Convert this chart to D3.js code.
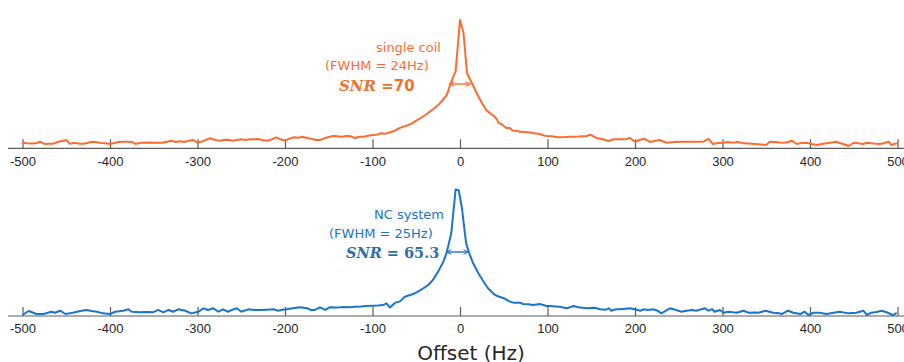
<!DOCTYPE html>
<html>
<head>
<meta charset="utf-8">
<script src="https://cdn.jsdelivr.net/npm/d3@7"></script>
<style>
  html, body { margin: 0; padding: 0; background: #fff; }
  svg { display: block; }
</style>
</head>
<body>
<svg id="chart" width="904" height="362"></svg>
<script>
// ---------------- data ----------------
const tickValues = [-500, -400, -300, -200, -100, 0, 100, 200, 300, 400, 500];
const tickLabels = ["-500", "-400", "-300", "-200", "-100", "0", "100", "200", "300", "400", "500"];
const xLabel = "Offset (Hz)";

// single coil spectrum (frequency offset in Hz, normalised amplitude)
const singleFreq = [
  -500,-495,-490,-485,-480,-475,-470,-465,-460,-455,-450,-446,-440,-435,-430,-425,-420,-415,-410,-405,
  -400,-395,-390,-385,-380,-375,-371,-365,-360,-355,-350,-345,-340,-335,-330,-325,-320,-315,-310,-305,
  -300,-295,-290,-285,-280,-275,-270,-265,-260,-255,-250,-245,-240,-235,-230,-225,-220,-215,-210,-205,
  -200,-195,-190,-185,-180,-175,-170,-165,-160,-155,-150,-145,-140,-135,-130,-125,-120,-115,-110,-105,
  -100,-95,-90,-85,-80,-75,-70,-65,-60,-55,-50,-45,-40,-35,-30,-25,-20,-15,-11,-5,
  0,4,8,14,19,25,30,34,38,42,44,48,53,57,60,65,69,75,80,85,
  91,96,100,105,110,114,120,125,130,135,140,145,149,153,157,162,166,170,175,180,
  185,190,194,200,205,210,215,217,222,228,236,245,255,265,272,278,284,289,295,301,
  306,312,318,324,330,337,344,350,354,360,365,370,375,379,385,390,396,402,408,413,
  419,425,430,434,438,444,450,455,461,465,470,475,480,485,490,493,496,500
];
const singleVal = [
  2.6,2.1,2.0,2.1,3.4,1.6,1.8,1.8,3.2,4.0,4.8,1.8,2.6,1.8,1.8,2.6,3.4,2.9,2.4,2.1,
  1.6,2.4,3.2,3.4,3.4,3.2,1.6,2.6,2.6,2.8,2.6,2.6,2.6,3.4,4.2,3.2,3.7,3.2,4.2,4.8,
  2.6,3.7,5.0,6.1,4.8,4.2,4.8,5.0,4.2,4.8,5.3,4.8,5.3,5.3,5.6,4.5,4.2,5.3,6.9,5.3,
  4.2,5.8,6.9,6.6,7.4,6.3,5.8,4.8,4.8,6.1,7.1,7.9,7.7,7.4,7.9,7.7,6.3,7.4,7.4,8.2,
  8.7,9.0,10.1,9.8,10.9,11.9,14.0,15.3,16.4,18.0,20.2,22.2,24.4,27.0,29.6,32.5,36.3,40.5,49.2,59.5,
  100,89.7,57.9,49.2,42.1,34.1,28.6,26.2,24.2,21.4,18.3,17.1,14.3,14.3,12.3,11.9,11.3,11.1,10.7,10.1,
  9.5,8.3,7.9,7.7,7.1,6.9,7.1,7.4,7.4,7.5,7.7,7.9,9.0,7.5,6.1,5.6,4.8,4.0,5.3,5.3,
  5.3,5.3,6.6,3.4,4.8,5.8,4.0,3.2,4.0,4.8,2.6,3.2,3.4,3.4,3.4,3.4,5.6,1.6,2.4,2.6,
  3.2,2.6,3.2,2.1,2.0,1.6,1.2,0.8,3.4,3.2,2.8,2.6,3.2,4.2,1.6,2.4,2.6,1.6,0.8,1.6,
  2.1,2.8,3.4,2.4,1.6,0.0,2.6,2.1,1.6,2.6,2.1,1.8,1.6,2.4,3.4,0.6,1.6,2.1
];

// NC system spectrum
const ncFreq = [
  -500,-493,-484,-476,-467,-463,-457,-451,-446,-440,-434,-427,-421,-415,-408,-400,-394,-385,-379,-375,
  -366,-358,-351,-345,-339,-333,-328,-322,-314,-307,-299,-293,-288,-282,-276,-271,-265,-260,-255,-250,
  -242,-235,-229,-221,-213,-208,-203,-198,-191,-183,-175,-170,-166,-160,-154,-149,-143,-137,-131,-126,
  -120,-113,-107,-100,-94,-88,-84,-80,-74,-69,-63,-57,-52,-48,-40,-35,-31,-25,-19,-15,
  -10,-5,-1.5,2,7,10,15,21,27,32,36,40,45,50,57,61,69,72,78,84,
  91,99,103,109,114,122,130,135,145,154,160,166,170,173,178,183,189,194,200,206,
  210,215,221,226,230,240,247,253,259,265,270,276,280,284,288,291,297,301,307,316,
  324,330,336,341,349,358,363,368,375,381,389,394,398,404,411,419,427,434,444,453,
  461,465,470,476,482,489,495,499
];
const ncVal = [
  0.4,3.6,1.2,1.2,3.0,2.2,3.8,1.2,1.7,2.6,3.6,4.4,3.6,3.0,1.7,1.2,3.0,3.8,4.9,3.0,
  2.5,2.8,2.5,4.4,2.5,4.4,3.0,4.9,3.8,1.7,3.0,5.7,4.4,5.7,3.0,4.9,3.0,4.6,5.7,3.0,
  4.9,4.4,4.4,4.6,4.9,3.8,4.6,4.9,5.7,6.5,5.8,4.4,4.4,6.5,4.4,6.5,6.3,6.5,6.8,6.5,
  7.0,7.2,7.5,7.8,8.0,8.3,9.7,6.3,10.2,11.0,14.9,16.3,17.5,18.9,22.4,25.0,28.2,34.8,42.7,50.6,
  65.2,100,99.4,86.3,57.3,50.6,41.4,33.5,26.8,21.6,18.8,16.3,14.9,13.7,11.0,10.2,10.2,9.1,9.0,8.3,
  9.1,7.5,7.5,7.2,7.0,5.7,7.5,6.5,5.7,6.2,4.9,4.5,5.7,3.8,4.9,4.9,5.3,5.7,4.9,3.8,
  4.9,4.4,4.9,3.8,1.7,5.7,4.4,3.0,3.8,4.4,3.8,4.9,5.7,3.8,5.1,3.0,4.4,2.2,3.0,2.2,
  3.8,2.2,2.4,2.2,3.8,2.2,2.0,1.2,3.8,2.2,1.2,3.0,0.4,2.2,2.2,1.2,2.2,3.0,1.7,2.2,
  3.8,0.4,2.2,2.8,3.8,2.2,0.2,2.2
];

// annotations
const singleNotes = ["single coil", "(FWHM = 24Hz)"];
const singleSNR = ["SNR", " =70"];
const singleFWHM = [-12, 12];
const ncNotes = ["NC system", "(FWHM = 25Hz)"];
const ncSNR = ["SNR", " = 65.3"];
const ncFWHM = [-15.5, 9.5];

// ---------------- drawing ----------------
const orange = "#FF6B2E";
const blue = "#1A75C8";
const svg = d3.select("#chart");

const x = d3.scaleLinear().domain([-500, 500]).range([22.5, 897.5]);
const yTop = d3.scaleLinear().domain([0, 100]).range([146, 20]);
const yBot = d3.scaleLinear().domain([0, 100]).range([315.5, 189.5]);

const defs = svg.append("defs");
function marker(id, color) {
  const m = defs.append("marker")
    .attr("id", id).attr("viewBox", "0 0 10 10")
    .attr("refX", 9).attr("refY", 5)
    .attr("markerWidth", 6).attr("markerHeight", 6)
    .attr("markerUnits", "userSpaceOnUse")
    .attr("orient", "auto-start-reverse");
  m.append("path").attr("d", "M1,1 L9,5 L1,9").attr("fill", "none")
    .attr("stroke", color).attr("stroke-width", 1.6);
}
marker("arrO", orange);
marker("arrB", blue);

function panel(freq, vals, y, axisY, color, notes, snr, fwhm, layout) {
  const g = svg.append("g");
  g.append("line").attr("x1", 8).attr("x2", 904)
    .attr("y1", axisY).attr("y2", axisY)
    .attr("stroke", "#5a5a5a").attr("stroke-width", 1.2);
  const axis = d3.axisBottom(x)
    .tickValues(tickValues)
    .tickFormat((d, i) => tickLabels[i])
    .tickSize(-9).tickPadding(8);
  const ag = g.append("g").attr("transform", `translate(0,${axisY})`).call(axis);
  ag.select(".domain").remove();
  ag.selectAll(".tick line").attr("stroke", "#5a5a5a").attr("stroke-width", 1.2);
  ag.selectAll(".tick text").attr("fill", "#262626")
    .style("font-family", "'Liberation Sans', Arial, sans-serif").style("font-size", "13px");

  const data = freq.map((f, i) => [f, vals[i]]);
  g.append("path").datum(data)
    .attr("fill", "none").attr("stroke", color).attr("stroke-width", 2)
    .attr("stroke-linejoin", "round")
    .attr("d", d3.line().x(d => x(d[0])).y(d => y(d[1])));

  g.append("line")
    .attr("x1", x(fwhm[0])).attr("x2", x(fwhm[1]))
    .attr("y1", layout.arrowY).attr("y2", layout.arrowY)
    .attr("stroke", color).attr("stroke-width", 1.4)
    .attr("marker-start", `url(#${layout.marker})`)
    .attr("marker-end", `url(#${layout.marker})`);

  notes.forEach((t, i) => {
    g.append("text").attr("x", layout.noteX[i]).attr("y", layout.noteY[i])
      .attr("fill", color)
      .style("font-family", "'DejaVu Sans', Verdana, sans-serif").style("font-size", "13px")
      .text(t);
  });
  const st = g.append("text").attr("x", layout.snrX).attr("y", layout.snrY)
    .attr("fill", layout.snrColor).style("font-size", layout.snrSize).style("font-weight", "bold")
    .attr("xml:space", "preserve").style("white-space", "pre");
  st.append("tspan").style("font-family", "'DejaVu Serif', serif").style("font-style", "italic").text(snr[0]);
  st.append("tspan").style("font-family", layout.snrFont2).text(snr[1]);
}

panel(singleFreq, singleVal, yTop, 148.3, orange, singleNotes, singleSNR, singleFWHM, {
  arrowY: 84, marker: "arrO",
  noteX: [376, 325], noteY: [52, 70],
  snrX: 339, snrY: 91, snrColor: "#EE7230", snrSize: "15px",
  snrFont2: "'DejaVu Sans', sans-serif"
});
panel(ncFreq, ncVal, yBot, 316, blue, ncNotes, ncSNR, ncFWHM, {
  arrowY: 252, marker: "arrB",
  noteX: [374, 329], noteY: [219, 238],
  snrX: 346, snrY: 258, snrColor: "#2F6DAE", snrSize: "14.5px",
  snrFont2: "'DejaVu Serif', serif"
});

svg.append("text").attr("x", 471).attr("y", 360).attr("text-anchor", "middle")
  .attr("fill", "#262626")
  .style("font-family", "'DejaVu Sans', Verdana, sans-serif").style("font-size", "20px")
  .text(xLabel);
</script>
</body>
</html>
